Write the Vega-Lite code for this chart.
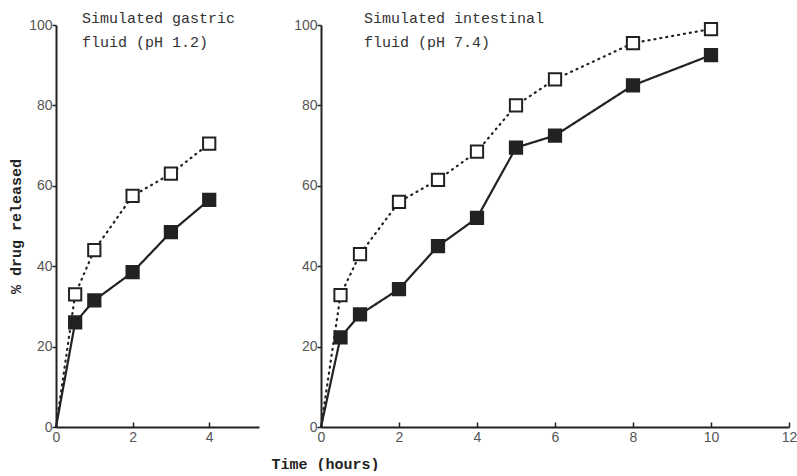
{
  "$schema": "https://vega.github.io/schema/vega-lite/v6.json",
  "background": "#ffffff",
  "padding": {"left": 8, "top": 11, "right": 0, "bottom": 0},
  "datasets": {
    "d": [
      {"panel": "gastric", "series": "open", "t": 0, "pct": 0},
      {"panel": "gastric", "series": "open", "t": 0.5, "pct": 33},
      {"panel": "gastric", "series": "open", "t": 1, "pct": 44},
      {"panel": "gastric", "series": "open", "t": 2, "pct": 57.5},
      {"panel": "gastric", "series": "open", "t": 3, "pct": 63},
      {"panel": "gastric", "series": "open", "t": 4, "pct": 70.5},
      {"panel": "gastric", "series": "solid", "t": 0, "pct": 0},
      {"panel": "gastric", "series": "solid", "t": 0.5, "pct": 26},
      {"panel": "gastric", "series": "solid", "t": 1, "pct": 31.5},
      {"panel": "gastric", "series": "solid", "t": 2, "pct": 38.5},
      {"panel": "gastric", "series": "solid", "t": 3, "pct": 48.5},
      {"panel": "gastric", "series": "solid", "t": 4, "pct": 56.5},
      {"panel": "intestinal", "series": "open", "t": 0, "pct": 0},
      {"panel": "intestinal", "series": "open", "t": 0.5, "pct": 32.8},
      {"panel": "intestinal", "series": "open", "t": 1, "pct": 43},
      {"panel": "intestinal", "series": "open", "t": 2, "pct": 56},
      {"panel": "intestinal", "series": "open", "t": 3, "pct": 61.5},
      {"panel": "intestinal", "series": "open", "t": 4, "pct": 68.5},
      {"panel": "intestinal", "series": "open", "t": 5, "pct": 80},
      {"panel": "intestinal", "series": "open", "t": 6, "pct": 86.5},
      {"panel": "intestinal", "series": "open", "t": 8, "pct": 95.5},
      {"panel": "intestinal", "series": "open", "t": 10, "pct": 99},
      {"panel": "intestinal", "series": "solid", "t": 0, "pct": 0},
      {"panel": "intestinal", "series": "solid", "t": 0.5, "pct": 22.3},
      {"panel": "intestinal", "series": "solid", "t": 1, "pct": 28},
      {"panel": "intestinal", "series": "solid", "t": 2, "pct": 34.3},
      {"panel": "intestinal", "series": "solid", "t": 3, "pct": 45},
      {"panel": "intestinal", "series": "solid", "t": 4, "pct": 52},
      {"panel": "intestinal", "series": "solid", "t": 5, "pct": 69.5},
      {"panel": "intestinal", "series": "solid", "t": 6, "pct": 72.5},
      {"panel": "intestinal", "series": "solid", "t": 8, "pct": 85},
      {"panel": "intestinal", "series": "solid", "t": 10, "pct": 92.5}
    ]
  },
  "config": {
    "view": {"stroke": null},
    "axis": {
      "grid": false,
      "ticks": true,
      "domainColor": "#222222",
      "domainWidth": 2,
      "tickColor": "#222222",
      "tickWidth": 1.5,
      "labelFont": "Liberation Sans",
      "labelFontSize": 14,
      "labelColor": "#555555",
      "titleFont": "Liberation Mono",
      "titleFontSize": 15,
      "titleFontWeight": "bold",
      "titleColor": "#222222"
    },
    "title": {
      "font": "Liberation Mono",
      "fontSize": 15,
      "fontWeight": "normal",
      "color": "#333333",
      "anchor": "start",
      "frame": "group",
      "lineHeight": 24
    }
  },
  "spacing": 12,
  "hconcat": [
    {
      "width": 203,
      "height": 402,
      "title": {"text": ["Simulated gastric", "fluid (pH 1.2)"], "dx": 26, "offset": -32},
      "data": {"name": "d"},
      "transform": [{"filter": "datum.panel == 'gastric'"}],
      "encoding": {
        "x": {"field": "t", "type": "quantitative", "scale": {"domain": [0, 5.3], "nice": false},
              "axis": {"title": null, "values": [0, 2, 4], "tickSize": -5, "labelPadding": 8, "labelFlush": false}},
        "y": {"field": "pct", "type": "quantitative", "scale": {"domain": [0, 100], "nice": false},
              "axis": {"title": "% drug released", "values": [0, 20, 40, 60, 80, 100], "tickSize": 4, "labelPadding": 0, "titlePadding": 5}}
      },
      "layer": [
        {
          "mark": {"type": "line", "color": "#222222", "strokeWidth": 2.2, "strokeCap": "round"},
          "encoding": {
            "strokeDash": {"field": "series", "type": "nominal", "scale": {"domain": ["open", "solid"], "range": [[1, 5], [1, 0]]}, "legend": null}
          }
        },
        {
          "transform": [{"filter": "datum.t > 0"}],
          "mark": {"type": "point", "shape": "square", "size": 150, "stroke": "#222222", "strokeWidth": 2, "opacity": 1, "filled": true},
          "encoding": {
            "fill": {"field": "series", "type": "nominal", "scale": {"domain": ["open", "solid"], "range": ["#ffffff", "#222222"]}, "legend": null}
          }
        }
      ]
    },
    {
      "width": 468,
      "height": 402,
      "title": {"text": ["Simulated intestinal", "fluid (pH 7.4)"], "dx": 43, "offset": -32},
      "data": {"name": "d"},
      "transform": [{"filter": "datum.panel == 'intestinal'"}],
      "encoding": {
        "x": {"field": "t", "type": "quantitative", "scale": {"domain": [0, 12], "nice": false},
              "axis": {"title": "Time (hours)", "values": [0, 2, 4, 6, 8, 10, 12], "tickSize": -5, "labelPadding": 8, "labelFlush": false,
                       "titleAnchor": "start", "titleAlign": "left", "titleX": -50, "titleY": 36, "titleBaseline": "middle"}},
        "y": {"field": "pct", "type": "quantitative", "scale": {"domain": [0, 100], "nice": false},
              "axis": {"title": null, "values": [0, 20, 40, 60, 80, 100], "tickSize": 4, "labelPadding": 0}}
      },
      "layer": [
        {
          "mark": {"type": "line", "color": "#222222", "strokeWidth": 2.2, "strokeCap": "round"},
          "encoding": {
            "strokeDash": {"field": "series", "type": "nominal", "scale": {"domain": ["open", "solid"], "range": [[1, 5], [1, 0]]}, "legend": null}
          }
        },
        {
          "transform": [{"filter": "datum.t > 0"}],
          "mark": {"type": "point", "shape": "square", "size": 150, "stroke": "#222222", "strokeWidth": 2, "opacity": 1, "filled": true},
          "encoding": {
            "fill": {"field": "series", "type": "nominal", "scale": {"domain": ["open", "solid"], "range": ["#ffffff", "#222222"]}, "legend": null}
          }
        }
      ]
    }
  ]
}
